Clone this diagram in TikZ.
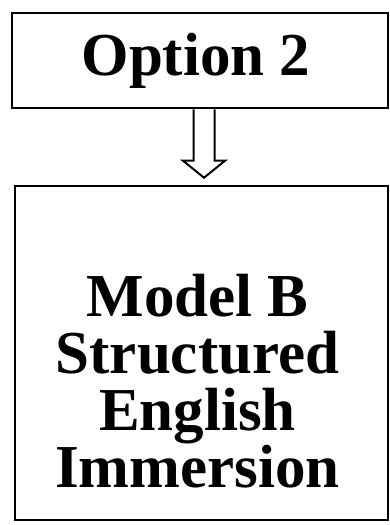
\documentclass[tikz,border=0pt]{standalone}
\usepackage{fontspec}
\setmainfont{Liberation Serif}
\usetikzlibrary{positioning,calc}

\begin{document}
\begin{tikzpicture}[x=1pt, y=-1pt,
    box/.style={rectangle, draw, line width=2.6pt, inner sep=0pt},
    boxtext/.style={align=center, font=\fontsize{61}{57}\selectfont\bfseries},
    hollow/.style={draw, line width=2pt, fill=white, line join=miter}
]
\useasboundingbox (0,0) rectangle (390,525);

% Option box on top
\node[box, boxtext, minimum width=376pt, minimum height=95pt] (option) at (200,60.5) {Option 2\hspace*{8pt}};

% Model box below
\node[box, minimum width=373pt, minimum height=334pt] (model) at (201.5,353) {};
\node[boxtext] (modeltext) at ($(model.center)+(-4,28)$) {Model B\\Structured\\English\\Immersion};

% Hollow arrow between the boxes
\coordinate (tail) at ($(option.south)+(4,0)$);
\coordinate (tip) at ($(model.north)+(2.5,-7)$);
\draw[hollow] ($(tail)+(-10.5,0)$) -- ($(tip)+(-10.5,-17)$) -- ($(tip)+(-21,-17)$)
    -- (tip) -- ($(tip)+(21,-17)$) -- ($(tip)+(10.5,-17)$) -- ($(tail)+(10.5,0)$);

\end{tikzpicture}
\end{document}
